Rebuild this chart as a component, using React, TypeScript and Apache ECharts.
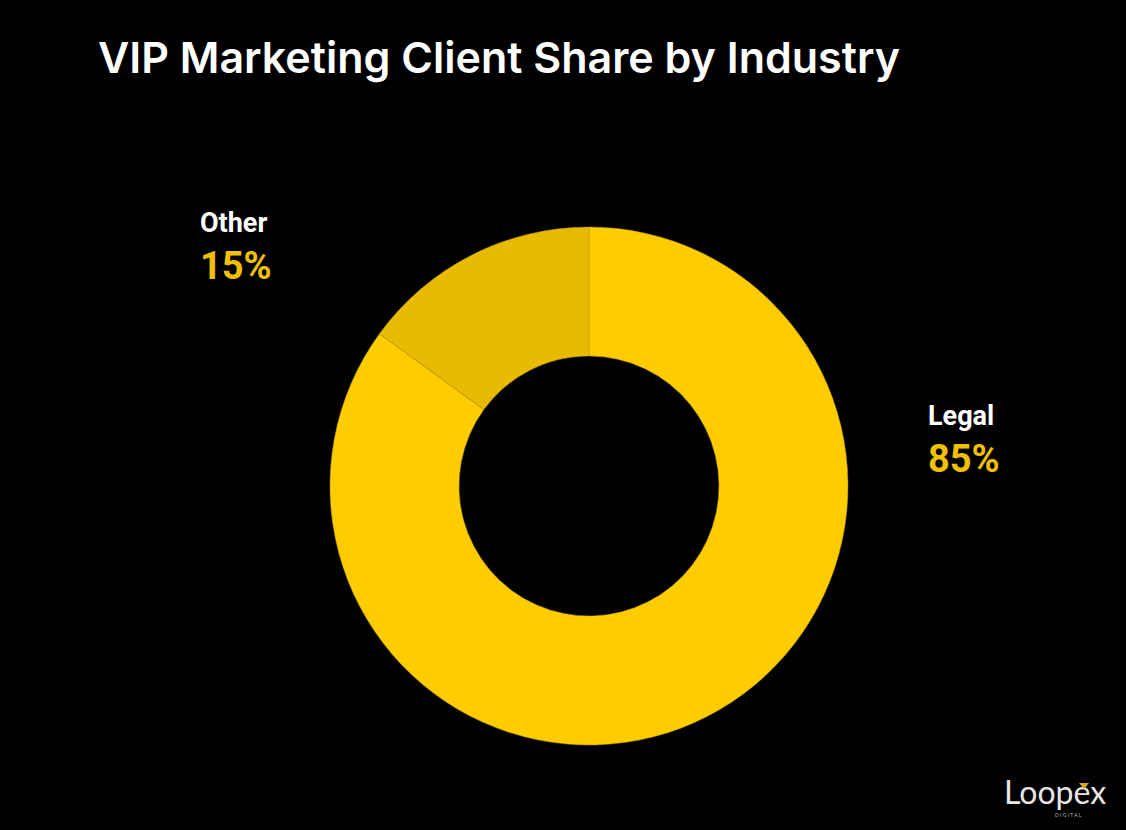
import React, { useEffect, useRef } from 'react';
import * as echarts from 'echarts';

const industries = ['Legal', 'Other'];
const shares = [85, 15];
const sliceColors = ['#FFCC00', '#E8BB00'];

// label anchors (left x, block middle y) per slice
const labelSpots = [
  [928, 439],
  [200, 246],
];

const App: React.FC = () => {
  const chartRef = useRef<HTMLDivElement>(null);

  useEffect(() => {
    if (!chartRef.current) return;
    const chart = echarts.init(chartRef.current, undefined, { renderer: 'svg' });

    const option: echarts.EChartsOption = {
      animation: false,
      backgroundColor: '#000000',
      title: {
        text: 'VIP Marketing Client Share by Industry',
        left: 93,
        top: 30,
        textStyle: {
          color: '#ffffff',
          fontFamily: 'Inter',
          fontWeight: 600,
          fontSize: 43,
        },
      },
      series: [
        {
          type: 'pie',
          center: [589, 486],
          radius: [130, 259],
          startAngle: 90,
          clockwise: true,
          itemStyle: { borderColor: '#b89400', borderWidth: 0.5 },
          labelLine: { show: false },
          label: {
            show: true,
            position: 'outside',
            formatter: '{n|{b}}\n{v|{d}%}',
            rich: {
              n: { color: '#ffffff', fontFamily: 'Roboto', fontWeight: 'bold', fontSize: 27, lineHeight: 40 },
              v: { color: '#F0C000', fontFamily: 'Roboto', fontWeight: 'bold', fontSize: 38, lineHeight: 46 },
            },
          },
          labelLayout: (params: any) => ({
            x: labelSpots[params.dataIndex][0],
            y: labelSpots[params.dataIndex][1],
            align: 'left',
            verticalAlign: 'middle',
          }),
          emphasis: { disabled: true },
          data: industries.map((name, i) => ({
            name,
            value: shares[i],
            itemStyle: { color: sliceColors[i] },
          })),
        },
      ],
      graphic: [
        {
          type: 'text',
          left: 1004,
          top: 775,
          style: {
            text: 'Loopex',
            fill: '#e6e6e6',
            font: '32px Lato',
          },
        },
        {
          type: 'polygon',
          shape: { points: [[1079, 783], [1089, 783], [1084, 789]] },
          style: { fill: '#d4a82a' },
        },
        {
          type: 'text',
          left: 1055,
          top: 812,
          style: {
            text: 'D I G I T A L',
            fill: '#bbbbbb',
            font: '5px Lato',
          },
        },
      ],
    };

    chart.setOption(option);
    return () => chart.dispose();
  }, []);

  return (
    <div
      ref={chartRef}
      style={{ position: 'fixed', left: 0, top: 0, width: 1126, height: 830 }}
    />
  );
};

export default App;
